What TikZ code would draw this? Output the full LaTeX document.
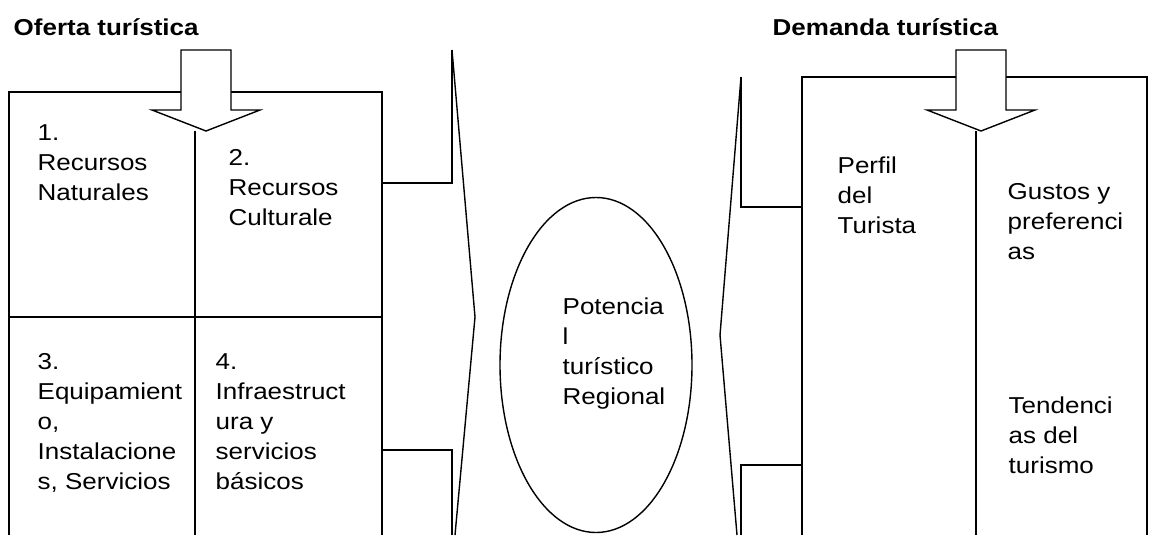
\documentclass[tikz,border=0pt]{standalone}
\usepackage{fontspec}
\setmainfont[FakeStretch=1.13]{Liberation Sans}
\usetikzlibrary{shapes.geometric}
\tikzset{
	celltext/.style={anchor=north west,inner sep=0pt,align=left,font=\fontsize{23}{30}\selectfont},
	titletext/.style={anchor=north west,inner sep=0pt,font=\fontsize{23}{28}\selectfont\bfseries},
	blockarrow/.style={draw,fill=white,line width=1.4pt,line join=miter}
}
\begin{document}
\begin{tikzpicture}[x=1pt,y=-1pt,line width=1.4pt]
			\useasboundingbox (0,0) rectangle (1150,535);
			% oferta
			\draw (9,535) -- (9,92) -- (382,92) -- (382,535);
			\draw (9,317) -- (382,317);
			\draw (195,131) -- (195,535);
			% demanda
			\draw (802,535) -- (802,77) -- (1147,77) -- (1147,535);
			\draw (976,131) -- (976,535);
			\foreach \cx in {206,981}
				\draw[blockarrow] (\cx-25,50) -- (\cx+25,50) -- (\cx+25,110) -- (\cx+54,110) -- (\cx,131) -- (\cx-54,110) -- (\cx-25,110) -- cycle;
			% chevrons
			\coordinate (ofTop) at (452,50);
			\coordinate (ofTip) at (475,317);
			\coordinate (ofBot) at (455,535);
			\coordinate (deTop) at (741,77);
			\coordinate (deTip) at (720,335);
			\coordinate (deBot) at (737,535);
			\draw (ofTop) -- (ofTip) -- (ofBot);
			\draw (deTop) -- (deTip) -- (deBot);
			\draw (382,183) -- (452,183) -- (ofTop);
			\draw (382,450) -- (452,450) -- (452,535);
			\draw (802,207) -- (741,207) -- (deTop);
			\draw (802,465) -- (741,465) -- (741,535);
			\node[ellipse,draw,minimum width=192pt,minimum height=335pt,inner sep=0pt] (pot) at (596,365) {};
			% textos
			\node[titletext] (oferta) at (13,18) {Oferta turística};
			\node[titletext] (demanda) at (772,18) {Demanda turística};
			\node[celltext] (recnat) at (37,123.5) {1.\\Recursos\\Naturales};
			\node[celltext] (reccul) at (228,148.5) {2.\\Recursos\\Culturale};
			\node[celltext] (equip) at (37,352.5) {3.\\Equipamient\\o,\\Instalacione\\s, Servicios};
			\node[celltext] (infra) at (215,352.5) {4.\\Infraestruct\\ura y\\servicios\\básicos};
			\node[celltext] (potxt) at (562,297) {Potencia\\l\\turístico\\Regional};
			\node[celltext] (perfil) at (837,156) {Perfil\\del\\Turista};
			\node[celltext] (gustos) at (1007,183) {Gustos y\\preferenci\\as};
			\node[celltext] (tend) at (1008,396) {Tendenci\\as del\\turismo};
		\end{tikzpicture}
\end{document}
